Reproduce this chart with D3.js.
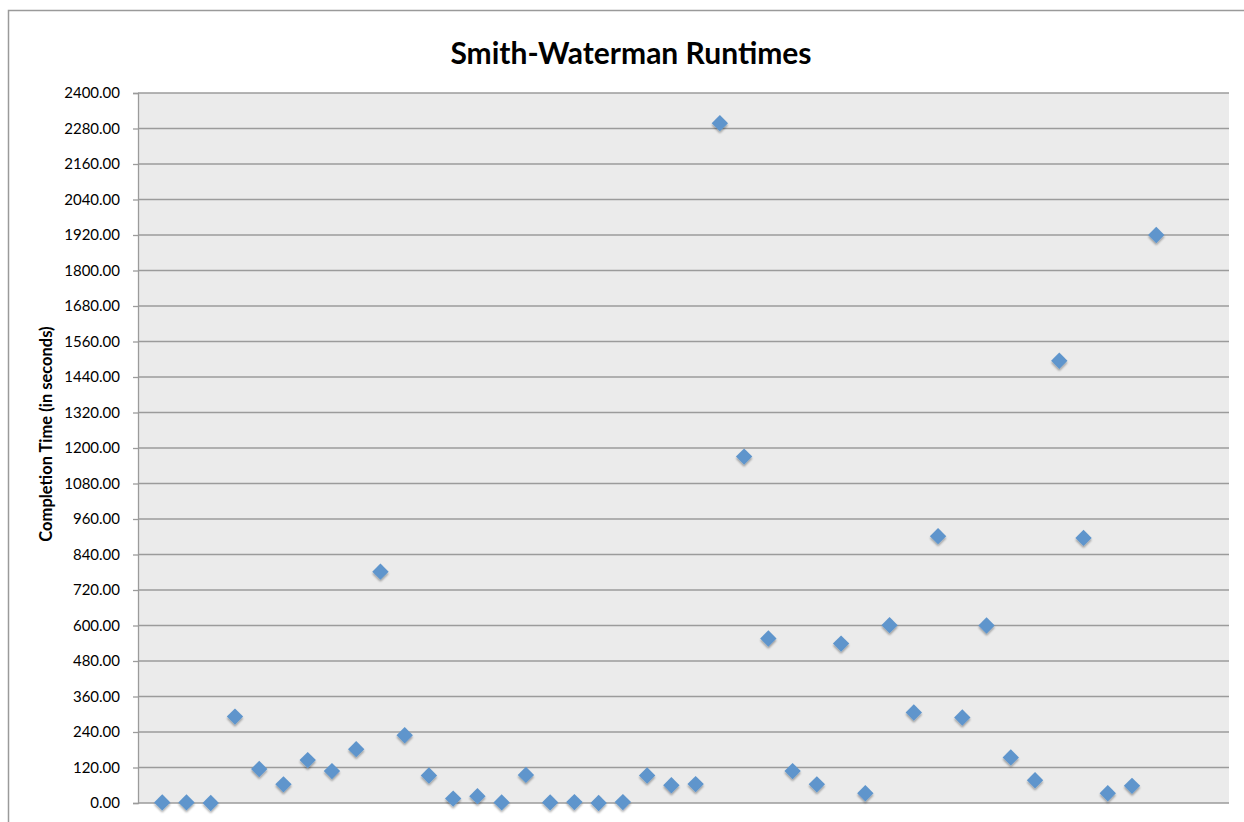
<!DOCTYPE html>
<html>
<head>
<meta charset="utf-8">
<script src="https://cdn.jsdelivr.net/npm/d3@7"></script>
<style>
  html, body { margin: 0; padding: 0; background: #fff; }
  svg { display: block; }
</style>
</head>
<body>
<svg id="chart" width="1244" height="822"></svg>
<script>
const title = "Smith-Waterman Runtimes";
const yTitle = "Completion Time (in seconds)";
const runIndex = d3.range(1, 43);
const runtimes = [2, 2, 0, 292, 115, 63, 145, 108, 182, 782,
                  229, 93, 15, 23, 2, 95, 2, 3, 0, 3,
                  93, 60, 64, 2298, 1171, 556, 108, 63, 539, 33,
                  601, 306, 902, 289, 600, 154, 77, 1495, 896, 33,
                  58, 1920];
const yTicks = d3.range(0, 2401, 120);

const svg = d3.select("#chart");
const plot = { left: 138, right: 1229, top: 93, bottom: 803 };

// outer frame
svg.append("rect").attr("x", 8.5).attr("y", 10.5).attr("width", 1250).attr("height", 900)
  .attr("fill", "#fff").attr("stroke", "#9a9a9a").attr("stroke-width", 1.5);

const x = d3.scaleLinear().domain([0, 45]).range([plot.left, plot.right]);
const y = d3.scaleLinear().domain([0, 2400]).range([plot.bottom, plot.top]);

// plot background
svg.append("rect").attr("x", plot.left).attr("y", plot.top)
  .attr("width", plot.right - plot.left).attr("height", plot.bottom - plot.top)
  .attr("fill", "#ebebeb");

// gridlines
svg.append("g").selectAll("line").data(yTicks).join("line")
  .attr("x1", plot.left).attr("x2", plot.right)
  .attr("y1", d => y(d)).attr("y2", d => y(d))
  .attr("stroke", "#9b9b9b").attr("stroke-width", 1.3);

// y axis
const yAxis = d3.axisLeft(y).tickValues(yTicks).tickFormat(d3.format(".2f")).tickSize(5).tickPadding(13);
const gy = svg.append("g").attr("transform", `translate(${plot.left},0)`).call(yAxis);
gy.select(".domain").attr("stroke", "#9b9b9b").attr("stroke-width", 1.3);
gy.selectAll(".tick line").attr("stroke", "#9b9b9b").attr("stroke-width", 1.3);
gy.selectAll(".tick text").attr("font-family", "Lato, 'Open Sans', sans-serif")
  .attr("font-size", 15).attr("fill", "#000");

// title
svg.append("text").attr("x", 631).attr("y", 64).attr("text-anchor", "middle")
  .attr("font-family", "Lato, 'Open Sans', sans-serif").attr("font-weight", "bold")
  .attr("font-size", 30).attr("fill", "#000").text(title);

// y title
svg.append("text").attr("transform", `translate(52,434) rotate(-90)`)
  .attr("text-anchor", "middle")
  .attr("font-family", "Lato, 'Open Sans', sans-serif").attr("font-weight", "bold")
  .attr("font-size", 16.5).attr("fill", "#000").text(yTitle);

// markers
const defs = svg.append("defs");
const f = defs.append("filter").attr("id", "sh").attr("x", "-50%").attr("y", "-50%").attr("width", "200%").attr("height", "200%");
f.append("feGaussianBlur").attr("in", "SourceAlpha").attr("stdDeviation", 1.2).attr("result", "b");
f.append("feOffset").attr("in", "b").attr("dx", 0).attr("dy", 1.5).attr("result", "o");
f.append("feComponentTransfer").attr("in", "o").attr("result", "o2")
  .append("feFuncA").attr("type", "linear").attr("slope", 0.35);
const m = f.append("feMerge");
m.append("feMergeNode").attr("in", "o2");
m.append("feMergeNode").attr("in", "SourceGraphic");

const diamond = d3.symbol().type(d3.symbolDiamond2).size(170);
svg.append("g").selectAll("path").data(runtimes).join("path")
  .attr("d", diamond)
  .attr("transform", (d, i) => `translate(${x(runIndex[i])},${y(d)})`)
  .attr("fill", "#5f95cc").attr("filter", "url(#sh)");
</script>
</body>
</html>
